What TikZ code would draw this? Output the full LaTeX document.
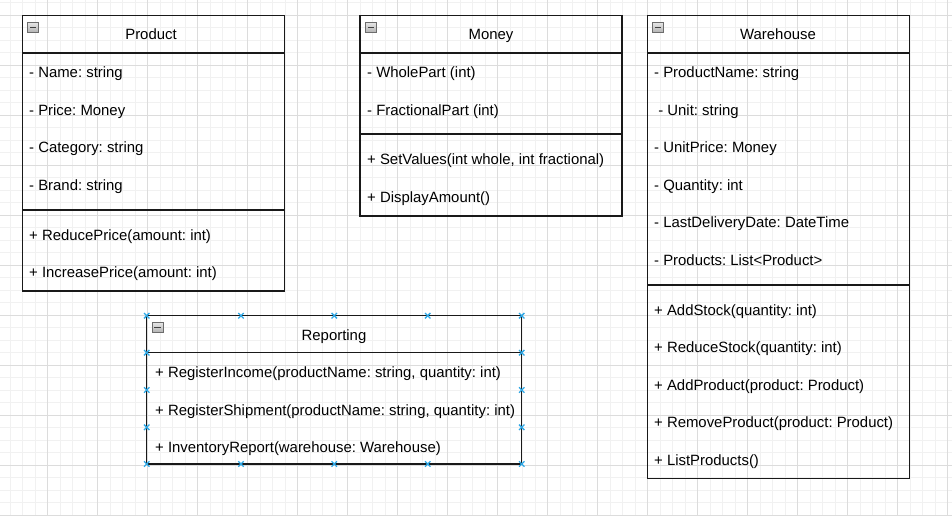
\documentclass[tikz,border=0pt]{standalone}
\usepackage{fontspec}
\setmainfont{Liberation Sans}
\usetikzlibrary{calc}
\frenchspacing
\definecolor{gminor}{HTML}{F1F1F1}
\definecolor{gmajor}{HTML}{DCDCDC}
\definecolor{selblue}{HTML}{2EA8E6}
\tikzset{
  box/.style={draw=black!90, line width=1.3pt},
  sepline/.style={draw=black!90, line width=1.3pt},
  title/.style={font=\fontsize{14.9}{16}\selectfont, inner sep=0pt, anchor=base},
  member/.style={font=\fontsize{14.9}{16}\selectfont, inner sep=0pt, anchor=base west},
  handle/.style={draw=selblue, line width=1.3pt},
}
\newcommand{\collapseicon}[2]{%
  \shade[top color=gray!20, bottom color=gray!60, draw=gray!85!black, line width=0.6pt] (#1,#2) rectangle ++(11,10);
  \draw[black!75, line width=1.6pt] ($(#1,#2)+(2.3,5)$) -- ++(6.4,0);
}
\newcommand{\selx}[2]{%
  \draw[handle] ($(#1,#2)+(-2.7,-2.7)$) -- ++(5.4,5.4);
  \draw[handle] ($(#1,#2)+(-2.7,2.7)$) -- ++(5.4,-5.4);
}
\begin{document}
\begin{tikzpicture}[x=1pt,y=-1pt]
\useasboundingbox (0,0) rectangle (952,516);
\fill[white] (0,0) rectangle (952,516);
% grid
\foreach \i in {0,...,76} {\draw[gminor, line width=0.9pt] (10+12.5*\i,0) -- (10+12.5*\i,516);}
\foreach \i in {0,...,41} {\draw[gminor, line width=0.9pt] (0,2.5+12.5*\i) -- (952,2.5+12.5*\i);}
\foreach \i in {0,...,19} {\draw[gmajor, line width=0.9pt] (47.5+50*\i,0) -- (47.5+50*\i,516);}
\foreach \i in {0,...,10} {\draw[gmajor, line width=0.9pt] (0,15+50*\i) -- (952,15+50*\i);}

% ---------- Product ----------
\draw[box] (22.3,15.7) rectangle (284.3,291);
\draw[sepline] (22.3,53) -- (284.3,53);
\draw[sepline] (22.3,210) -- (284.3,210);
\collapseicon{27.5}{22.5}
\node[title] (prodT) at (151,40) {Product};
\node[member] (prodA1) at (29,77.3) {- Name: string};
\node[member] (prodA2) at (29,115) {- Price: Money};
\node[member] (prodA3) at (29,152.3) {- Category: string};
\node[member] (prodA4) at (29,190) {- Brand: string};
\node[member] (prodM1) at (29,240.3) {+ ReducePrice(amount: int)};
\node[member] (prodM2) at (29,277.3) {+ IncreasePrice(amount: int)};

% ---------- Money ----------
\draw[box] (360,15.7) rectangle (622,216);
\draw[sepline] (360,53) -- (622,53);
\draw[sepline] (360,134) -- (622,134);
\collapseicon{365.5}{22.5}
\node[title] (monT) at (491,40) {Money};
\node[member] (monA1) at (367,77.3) {- WholePart (int)};
\node[member] (monA2) at (367,115) {- FractionalPart (int)};
\node[member] (monM1) at (367,164.3) {+ SetValues(int whole, int fractional)};
\node[member] (monM2) at (367,202) {+ DisplayAmount()};

% ---------- Warehouse ----------
\draw[box] (647.3,15.7) rectangle (909.3,478.3);
\draw[sepline] (647.3,53) -- (909.3,53);
\draw[sepline] (647.3,285) -- (909.3,285);
\collapseicon{652.5}{22.5}
\node[title] (whT) at (778,40) {Warehouse};
\node[member] (whA1) at (654,77.3) {- ProductName: string};
\node[member] (whA2) at (654,115) {\ - Unit: string};
\node[member] (whA3) at (654,152.3) {- UnitPrice: Money};
\node[member] (whA4) at (654,190) {- Quantity: int};
\node[member] (whA5) at (654,227.3) {- LastDeliveryDate: DateTime};
\node[member] (whA6) at (654,265) {- Products: List<Product>};
\node[member] (whM1) at (654,315.3) {+ AddStock(quantity: int)};
\node[member] (whM2) at (654,352.3) {+ ReduceStock(quantity: int)};
\node[member] (whM3) at (654,390.3) {+ AddProduct(product: Product)};
\node[member] (whM4) at (654,427.3) {+ RemoveProduct(product: Product)};
\node[member] (whM5) at (654,465.3) {+ ListProducts()};

% ---------- Reporting ----------
\draw[box] (146.7,315.7) rectangle (521.7,464);
\draw[sepline] (146.7,352.7) -- (521.7,352.7);
\collapseicon{152}{322.5}
\node[title] (repT) at (334,340) {Reporting};
\node[member] (repM1) at (155,377.3) {+ RegisterIncome(productName: string, quantity: int)};
\node[member] (repM2) at (155,415) {+ RegisterShipment(productName: string, quantity: int)};
\node[member] (repM3) at (155,452.3) {+ InventoryReport(warehouse: Warehouse)};

% selection handles
\foreach \hx in {146.7,241,334.3,427.7,521.7} {\selx{\hx}{315.7}\selx{\hx}{464}}
\foreach \hy in {352.7,390,427.3} {\selx{146.7}{\hy}\selx{521.7}{\hy}}
\end{tikzpicture}
\end{document}
